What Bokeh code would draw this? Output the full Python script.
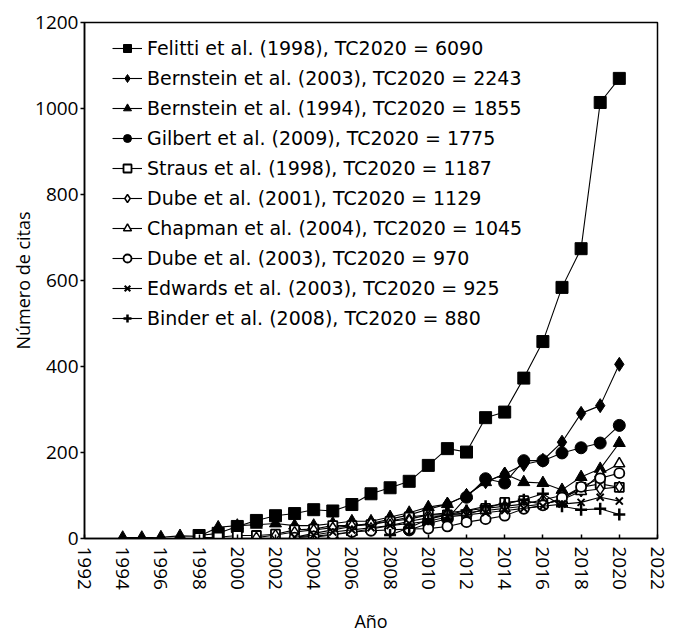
import math
from bokeh.plotting import figure
from bokeh.models import Legend, LegendItem, FixedTicker
from bokeh.embed import file_html
from bokeh.resources import INLINE

# ---------------- data ----------------
x_ticks = list(range(1992, 2023, 2))
y_ticks = list(range(0, 1201, 200))

labels = [
    "Felitti et al. (1998), TC2020 = 6090",
    "Bernstein et al. (2003), TC2020 = 2243",
    "Bernstein et al. (1994), TC2020 = 1855",
    "Gilbert et al. (2009), TC2020 = 1775",
    "Straus et al. (1998), TC2020 = 1187",
    "Dube et al. (2001), TC2020 = 1129",
    "Chapman et al. (2004), TC2020 = 1045",
    "Dube et al. (2003), TC2020 = 970",
    "Edwards et al. (2003), TC2020 = 925",
    "Binder et al. (2008), TC2020 = 880",
]

felitti_years = list(range(1998, 2021))
felitti_vals = [7, 12, 28, 42, 53, 58, 67, 64, 79, 104, 118, 133, 170, 209, 201,
                281, 294, 373, 458, 584, 674, 1014, 1070]

bernstein03_years = list(range(2003, 2021))
bernstein03_vals = [3, 12, 20, 28, 35, 45, 55, 68, 80, 100, 132, 150, 172, 182,
                    224, 291, 309, 405]

bernstein94_years = list(range(1994, 2021))
bernstein94_vals = [2, 2, 3, 6, 5, 26, 30, 32, 35, 30, 30, 35, 40, 40, 50, 60,
                    73, 80, 100, 131, 150, 131, 129, 113, 143, 162, 222]

gilbert_years = list(range(2009, 2021))
gilbert_vals = [20, 35, 46, 96, 139, 129, 181, 181, 199, 211, 222, 263]

straus_years = list(range(1998, 2021))
straus_vals = [2, 3, 7, 7, 10, 20, 22, 30, 30, 32, 40, 50, 55, 55, 55, 70, 84,
               88, 80, 90, 119, 127, 119]

dube01_years = list(range(2001, 2021))
dube01_vals = [2, 8, 15, 20, 25, 30, 35, 40, 45, 55, 60, 65, 70, 75, 80, 90,
               100, 110, 115, 120]

chapman_years = list(range(2004, 2021))
chapman_vals = [3, 8, 15, 22, 30, 40, 48, 55, 60, 65, 70, 75, 80, 90, 110, 150, 174]

dube03_years = list(range(2003, 2021))
dube03_vals = [2, 5, 10, 15, 18, 20, 22, 23, 28, 38, 45, 53, 69, 77, 95, 120, 140, 152]

edwards_years = list(range(2003, 2021))
edwards_vals = [3, 8, 15, 20, 25, 30, 35, 40, 50, 55, 60, 65, 70, 75, 80, 84, 96, 87]

binder_years = list(range(2008, 2021))
binder_vals = [8, 25, 45, 55, 65, 75, 80, 90, 104, 75, 67, 69, 56]

series_x = [felitti_years, bernstein03_years, bernstein94_years, gilbert_years,
            straus_years, dube01_years, chapman_years, dube03_years,
            edwards_years, binder_years]
series_y = [felitti_vals, bernstein03_vals, bernstein94_vals, gilbert_vals,
            straus_vals, dube01_vals, chapman_vals, dube03_vals,
            edwards_vals, binder_vals]

# ---------------- styles ----------------
styles = [
    dict(marker="square", size=12, fill_color="black", line_width=1),
    dict(marker="diamond", size=14, fill_color="black", line_width=1),
    dict(marker="triangle", size=12, fill_color="black", line_width=1),
    dict(marker="circle", size=12, fill_color="black", line_width=1),
    dict(marker="square", size=9, fill_color="white", line_width=1.8),
    dict(marker="diamond", size=11, fill_color="white", line_width=1.5),
    dict(marker="triangle", size=11, fill_color="white", line_width=1.5),
    dict(marker="circle", size=10, fill_color="white", line_width=1.8),
    dict(marker="x", size=10, fill_color="black", line_width=2),
    dict(marker="cross", size=12, fill_color="black", line_width=2.5),
]

p = figure(width=676, height=635, x_range=(1992, 2022), y_range=(0, 1200),
           output_backend="svg", toolbar_location=None,
           min_border_left=84, min_border_right=19, min_border_top=22,
           min_border_bottom=97)

p.xgrid.visible = False
p.ygrid.visible = False
p.outline_line_color = "black"
p.outline_line_width = 1.5
p.outline_line_alpha = 1
p.background_fill_color = "white"
p.border_fill_color = "white"

tick_font = "Open Sans"

p.xaxis.ticker = FixedTicker(ticks=x_ticks)
p.xaxis.major_label_orientation = -math.pi / 2
p.xaxis.major_tick_in = 4
p.xaxis.major_tick_out = 0
p.xaxis.minor_tick_line_color = None
p.xaxis.major_label_standoff = 8
p.xaxis.axis_label = "Año"
p.xaxis.axis_label_standoff = 16

p.yaxis.ticker = FixedTicker(ticks=y_ticks)
p.yaxis.major_tick_in = 0
p.yaxis.major_tick_out = 4
p.yaxis.minor_tick_line_color = None
p.yaxis.major_label_standoff = 2
p.yaxis.axis_label = "Número de citas"
p.yaxis.axis_label_standoff = -3

for ax in (p.xaxis[0], p.yaxis[0]):
    ax.axis_line_color = "black"
    ax.axis_line_width = 1.5
    ax.major_tick_line_color = "black"
    ax.major_tick_line_width = 1.5
    ax.major_label_text_font = tick_font
    ax.major_label_text_font_size = "19px"
    ax.major_label_text_color = "black"
    ax.axis_label_text_font = tick_font
    ax.axis_label_text_font_size = "18px"
    ax.axis_label_text_font_style = "normal"
    ax.axis_label_text_color = "black"

items = []
for lab, xs, ys, st in zip(labels, series_x, series_y, styles):
    r_line = p.line(xs, ys, line_color="black", line_width=1.1)
    r_pts = p.scatter(xs, ys, marker=st["marker"], size=st["size"],
                      fill_color=st["fill_color"], line_color="black",
                      line_width=st["line_width"])
    items.append(LegendItem(label=lab, renderers=[r_line, r_pts]))

legend = Legend(items=items, location=(28, 209))
legend.padding = 0
legend.margin = 0
legend.spacing = 8
legend.glyph_width = 30
legend.glyph_height = 20
legend.label_height = 20
legend.label_standoff = 5
legend.label_text_font = "DejaVu Sans"
legend.label_text_font_size = "19px"
legend.label_text_color = "black"
legend.border_line_color = None
legend.background_fill_alpha = 0
p.add_layout(legend)

open("out.html", "w").write(file_html(p, INLINE))
